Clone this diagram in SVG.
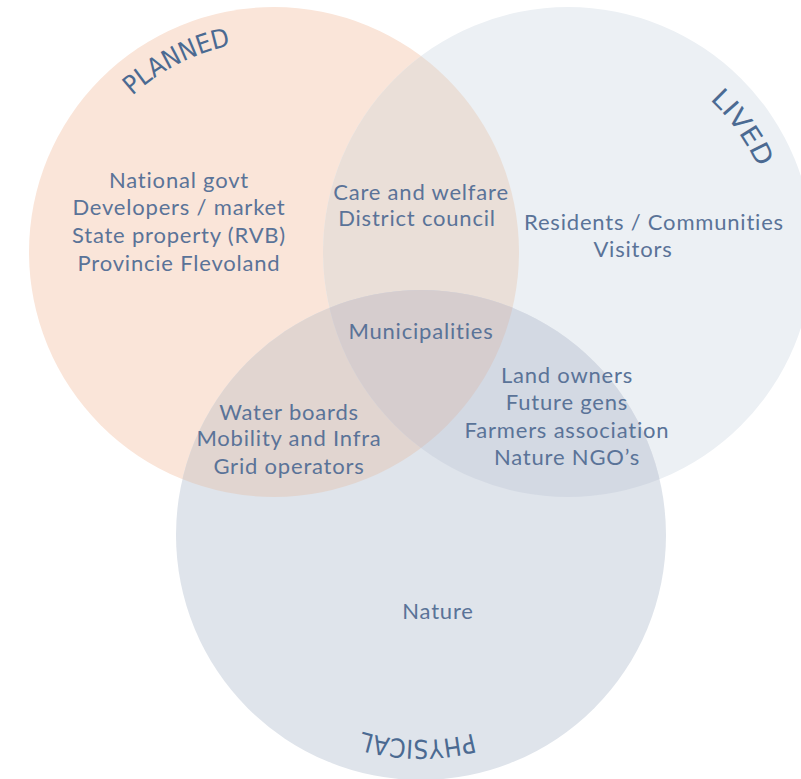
<svg xmlns="http://www.w3.org/2000/svg" width="801" height="779" viewBox="0 0 801 779">
<style>
.t{font-family:Lato,"Open Sans","Liberation Sans",sans-serif;font-size:22px;letter-spacing:0.8px;font-variant-ligatures:none;fill:#5a7398;text-anchor:middle}
.h{font-family:"DejaVu Sans","Liberation Sans",sans-serif;font-stretch:condensed;font-size:26px;fill:#4b6a92;text-anchor:middle}
</style>
<defs>
<clipPath id="cpP"><circle cx="274" cy="252" r="245"/></clipPath>
<clipPath id="cpL"><circle cx="568" cy="252" r="245"/></clipPath>
<path id="arcP" d="M112.4,116.4 A211,211 0 0 1 274,41"/>
<path id="arcL" d="M672,71.9 A208,208 0 0 1 772.8,215.9"/>
<path id="arcPh" d="M566,680 A205,205 0 0 1 276,680"/>
</defs>
<rect width="801" height="779" fill="#ffffff"/>
<g id="circles">
<g id="planned"><circle cx="274" cy="252" r="245" fill="#fae5d9"/></g>
<g id="lived"><circle cx="568" cy="252" r="245" fill="#ecf0f4"/></g>
<g id="physical"><circle cx="421" cy="535" r="245" fill="#dfe4eb"/></g>
<g id="overlap-planned-lived"><circle cx="568" cy="252" r="245" fill="#eadfd8" clip-path="url(#cpP)"/></g>
<g id="overlap-planned-physical"><circle cx="421" cy="535" r="245" fill="#e1d5d0" clip-path="url(#cpP)"/></g>
<g id="overlap-lived-physical"><circle cx="421" cy="535" r="245" fill="#d3d9e3" clip-path="url(#cpL)"/></g>
<g id="overlap-all" clip-path="url(#cpL)"><circle cx="421" cy="535" r="245" fill="#d6cdce" clip-path="url(#cpP)"/></g>
</g>
<g id="connectors"/>
<g id="label-planned"><text class="h"><textPath href="#arcP" startOffset="46%" textLength="112" lengthAdjust="spacingAndGlyphs">PLANNED</textPath></text></g>
<g id="label-lived"><text class="h"><textPath href="#arcL" startOffset="49%" textLength="84" lengthAdjust="spacingAndGlyphs">LIVED</textPath></text></g>
<g id="label-physical"><text class="h"><textPath href="#arcPh" startOffset="51%" textLength="112" lengthAdjust="spacingAndGlyphs">PHYSICAL</textPath></text></g>
<g id="node-planned">
<text class="t" x="179" y="188">National govt<tspan x="179" dy="27">Developers / market</tspan><tspan x="179" dy="28">State property (RVB)</tspan><tspan x="179" dy="28">Provincie Flevoland</tspan></text>
</g>
<g id="node-planned-lived">
<text class="t" x="421" y="200">Care and welfare<tspan x="417" dy="26">District council</tspan></text>
</g>
<g id="node-lived">
<text class="t" x="654" y="230">Residents / Communities<tspan x="633" dy="27">Visitors</tspan></text>
</g>
<g id="node-all">
<text class="t" x="421" y="339">Municipalities</text>
</g>
<g id="node-lived-physical">
<text class="t" x="567" y="383">Land owners<tspan x="567" dy="27">Future gens</tspan><tspan x="567" dy="28">Farmers association</tspan><tspan x="567" dy="27">Nature NGO’s</tspan></text>
</g>
<g id="node-planned-physical">
<text class="t" x="289" y="420">Water boards<tspan x="289" dy="26">Mobility and Infra</tspan><tspan x="289" dy="28">Grid operators</tspan></text>
</g>
<g id="node-physical">
<text class="t" x="438" y="619">Nature</text>
</g>
</svg>
